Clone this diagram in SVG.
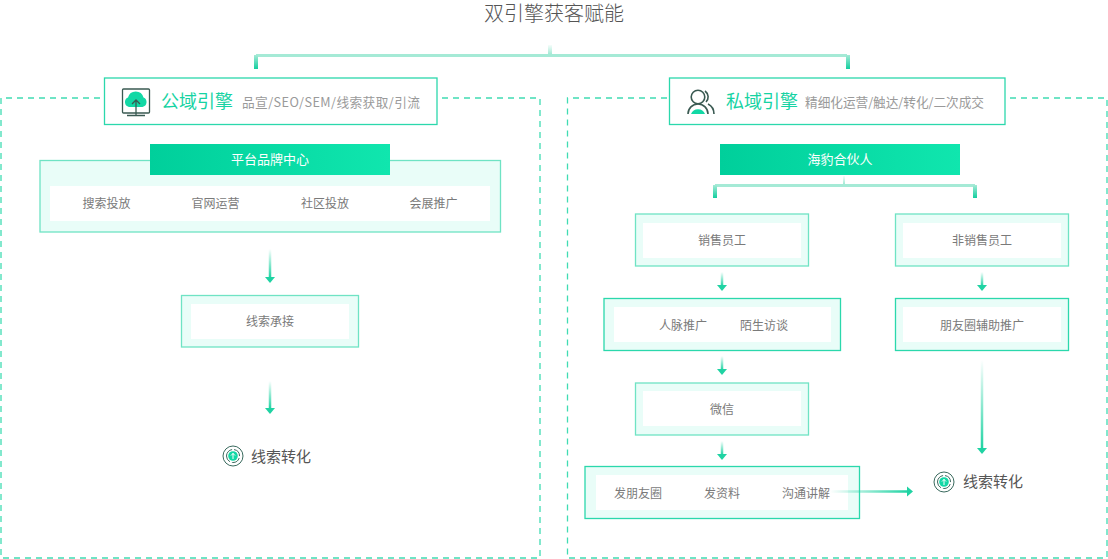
<svg xmlns="http://www.w3.org/2000/svg" width="1108" height="559" viewBox="0 0 1108 559">
<style>
text{font-family:"Noto Sans CJK SC","Noto Sans",sans-serif;font-weight:400}
.t{font-size:12px;fill:#7a7a7a;text-anchor:middle}
.h{font-size:18px;fill:#16d3a3}
.s{font-size:12.700px;fill:#9a9a9a}
.b{font-size:13px;fill:#fff;text-anchor:middle}
.c{font-size:15px;fill:#555}
.o{fill:#e9fdf8;stroke:#6fe3c4;stroke-width:1.300}
.i{fill:#fff}
.hd{fill:#fff;stroke:#2bd8ac;stroke-width:1.300}
.dash{fill:none;stroke:#40dcb3;stroke-width:1.300;stroke-dasharray:6 5}
.br{fill:none;stroke:#a5ead6;stroke-width:3}
.ic{fill:none;stroke:#3a5a52;stroke-width:1.300}
</style>
<defs>
<linearGradient id="ban" x1="0" y1="0" x2="1" y2="0"><stop offset="0" stop-color="#00cf9b"/><stop offset="1" stop-color="#10e6ae"/></linearGradient>
<linearGradient id="dn" x1="0" y1="0" x2="0" y2="1"><stop offset="0" stop-color="#1fd3a3" stop-opacity="0"/><stop offset="1" stop-color="#1fd3a3"/></linearGradient>
<linearGradient id="rt" x1="0" y1="0" x2="1" y2="0"><stop offset="0" stop-color="#1fd3a3" stop-opacity="0"/><stop offset="1" stop-color="#1fd3a3"/></linearGradient>
<linearGradient id="st" x1="0" y1="0" x2="0" y2="1"><stop offset="0" stop-color="#a5ead6"/><stop offset="1" stop-color="#12cf9f"/></linearGradient>
<linearGradient id="up" x1="0" y1="0" x2="0" y2="1"><stop offset="0" stop-color="#a5ead6" stop-opacity="0.1"/><stop offset="1" stop-color="#a5ead6"/></linearGradient>
<symbol id="conv" viewBox="0 0 22 22" overflow="visible">
<circle cx="11" cy="11" r="10" fill="none" stroke="#3a6a5e" stroke-width="1"/>
<path d="M4.500 11a6.500 6.500 0 0 1 13 0a6.500 6.500 0 0 1-13 0" fill="none" stroke="#3a6a5e" stroke-width="1" stroke-dasharray="9 2"/>
<circle cx="11" cy="11" r="4.800" fill="#12d8a5"/>
<path d="M11 8v6M9 10.500l2-2 2 2" fill="none" stroke="#fff" stroke-width="1"/>
</symbol>
</defs>

<text x="554" y="21" fill="#555" text-anchor="middle" style="font-size:20px;font-weight:300">双引擎获客赋能</text>

<g id="connectors">
<path class="br" d="M256 55.500H847"/>
<rect x="254" y="55" width="4" height="14" fill="url(#st)"/>
<rect x="846" y="55" width="4" height="14" fill="url(#st)"/>
<rect x="548" y="45" width="4" height="9" fill="url(#up)"/>
<path class="br" d="M715 185.500H975"/>
<rect x="713" y="185" width="4" height="13" fill="url(#st)"/>
<rect x="973" y="185" width="4" height="13" fill="url(#st)"/>
<rect x="843" y="176" width="2" height="8" fill="url(#up)"/>

<rect x="268.750" y="249" width="2.500" height="29" fill="url(#dn)"/><path d="M265 277h10l-5 6z" fill="#1fd3a3"/>
<rect x="268.750" y="381" width="2.500" height="28" fill="url(#dn)"/><path d="M265 408h10l-5 6z" fill="#1fd3a3"/>
<rect x="720.750" y="272" width="2.500" height="14" fill="url(#dn)"/><path d="M717 285h10l-5 6z" fill="#1fd3a3"/>
<rect x="720.750" y="356" width="2.500" height="14" fill="url(#dn)"/><path d="M717 369h10l-5 6z" fill="#1fd3a3"/>
<rect x="720.750" y="441" width="2.500" height="14" fill="url(#dn)"/><path d="M717 454h10l-5 6z" fill="#1fd3a3"/>
<rect x="980.750" y="272" width="2.500" height="14" fill="url(#dn)"/><path d="M977 285h10l-5 6z" fill="#1fd3a3"/>
<rect x="980.750" y="360" width="2.500" height="89" fill="url(#dn)"/><path d="M977 448h10l-5 6z" fill="#1fd3a3"/>
</g>

<g id="public-area">
<path class="dash" d="M100 98H1V558H540V98H441"/>
</g>
<g id="private-area">
<path class="dash" d="M667 98H567.500V558H1107V98H1009"/>
</g>

<g id="public-header">
<rect class="hd" x="104.500" y="78" width="332.500" height="46.500"/>
<rect x="122.500" y="89" width="27" height="24" rx="1" fill="none" stroke="#3a5a52" stroke-width="1.300"/>
<path d="M129 107a5 5 0 0 1-1-9.500a8 8 0 0 1 15.500 0a5 5 0 0 1-1 9.500z" fill="#12d8a5"/>
<path d="M136 116V100M132 104l4-4 4 4M127 115.500h18" class="ic"/>
<text class="h" x="161" y="107.500">公域引擎</text>
<text class="s" x="242" y="107" textLength="178">品宣/SEO/SEM/线索获取/引流</text>
</g>

<g id="private-header">
<rect class="hd" x="669.500" y="78" width="335.500" height="46.500"/>
<circle cx="698" cy="97" r="6.800" class="ic" style="stroke-width:1.600"/>
<path d="M688 114a10 10 0 0 1 20 0" class="ic" style="stroke-width:1.600"/>
<path d="M691 114a7.500 7.500 0 0 1 14 0z" fill="#12d8a5"/>
<path d="M705 91c4 3 4 8 1 11M708 104c4 2 6 5 6 10" class="ic" style="stroke-width:1.600"/>
<text class="h" x="726" y="107.500">私域引擎</text>
<text class="s" x="805" y="107" textLength="179">精细化运营/触达/转化/二次成交</text>
</g>

<g id="brand-center">
<rect class="o" x="40" y="160.500" width="460.500" height="71.500"/>
<rect class="i" x="50" y="186" width="440" height="35"/>
<rect x="150" y="144" width="240" height="31" fill="url(#ban)"/>
<text class="b" x="270" y="164">平台品牌中心</text>
<text class="t" x="106.500" y="207.500">搜索投放</text>
<text class="t" x="215.500" y="207.500">官网运营</text>
<text class="t" x="325" y="207.500">社区投放</text>
<text class="t" x="433.500" y="207.500">会展推广</text>
</g>

<g id="leads-accept">
<rect class="o" x="181.500" y="295.500" width="177" height="51.500"/>
<rect class="i" x="191" y="304" width="158" height="35"/>
<text class="t" x="270" y="326">线索承接</text>
</g>

<g id="public-convert">
<use href="#conv" x="222" y="445" width="22" height="22"/>
<text class="c" x="251" y="462">线索转化</text>
</g>

<g id="partner">
<rect x="720" y="144" width="240" height="31" fill="url(#ban)"/>
<text class="b" x="840" y="164">海豹合伙人</text>
</g>

<g id="sales">
<rect class="o" x="635.500" y="214" width="173" height="52"/>
<rect class="i" x="643" y="223" width="158" height="35"/>
<text class="t" x="722" y="245">销售员工</text>
</g>

<g id="non-sales">
<rect class="o" x="895.500" y="214" width="173" height="52"/>
<rect class="i" x="903" y="223" width="158" height="35"/>
<text class="t" x="982" y="245">非销售员工</text>
</g>

<g id="referral">
<rect class="o" x="604" y="298.500" width="236.500" height="52" style="stroke:#2bd8ac"/>
<rect class="i" x="614" y="307" width="217" height="35"/>
<text class="t" x="683" y="329.500">人脉推广</text>
<text class="t" x="764" y="329.500">陌生访谈</text>
</g>

<g id="moments">
<rect class="o" x="895.500" y="298.500" width="173" height="52" style="stroke:#2bd8ac"/>
<rect class="i" x="903" y="307" width="158" height="35"/>
<text class="t" x="982" y="329.500">朋友圈辅助推广</text>
</g>

<g id="wechat">
<rect class="o" x="635.500" y="383" width="173" height="52"/>
<rect class="i" x="643" y="391" width="158" height="35"/>
<text class="t" x="722" y="413.500">微信</text>
</g>

<g id="actions">
<rect class="o" x="585" y="466.500" width="274.500" height="52" style="stroke:#2bd8ac"/>
<rect class="i" x="596" y="475" width="252" height="35"/>
<text class="t" x="638" y="497.500">发朋友圈</text>
<text class="t" x="722" y="497.500">发资料</text>
<text class="t" x="806" y="497.500">沟通讲解</text>
</g>

<g id="private-convert">
<use href="#conv" x="933" y="471" width="22" height="22"/>
<text class="c" x="963" y="486.500">线索转化</text>
</g>

<g id="connector-overlay">
<rect x="830" y="490.250" width="78" height="2.500" fill="url(#rt)"/><path d="M907 486.500v10l6-5z" fill="#1fd3a3"/>
</g>
</svg>
